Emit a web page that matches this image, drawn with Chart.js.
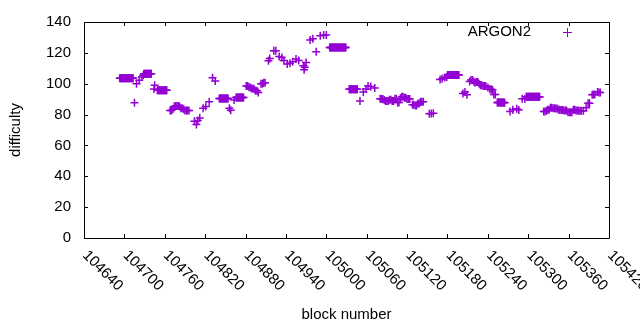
<!DOCTYPE html>
<html>
<head>
<meta charset="utf-8">
<script src="https://cdn.jsdelivr.net/npm/chart.js@4/dist/chart.umd.min.js"></script>
<style>
    html, body { margin: 0; padding: 0; background: #fff; }
    #wrap { width: 640px; height: 330px; }
</style>
</head>
<body>
<div id="wrap"><canvas id="chart" width="640" height="330"></canvas></div>
<script>
// ARGON2 difficulty per block
const seriesName = 'ARGON2';
const blocks = [
    104693, 104694, 104695, 104696, 104697, 104698, 104699, 104700, 104701, 104702, 104703,
    104704, 104705, 104706, 104707, 104708, 104709, 104710, 104711, 104712, 104713,
    104715, 104718, 104722, 104726, 104728,
    104729, 104730, 104731, 104732, 104733, 104734, 104735, 104736, 104737, 104738, 104739, 104740,
    104744, 104745,
    104749, 104750, 104751, 104752, 104753, 104754, 104755, 104756, 104757, 104758, 104759,
    104760, 104761, 104762, 104763,
    104768, 104770, 104772, 104774, 104776, 104778, 104780, 104782, 104784, 104786, 104788,
    104790, 104792, 104794, 104796,
    104804, 104807, 104809, 104812, 104817, 104821, 104826, 104831, 104835,
    104841, 104842, 104843, 104844, 104845, 104846, 104847, 104848, 104849, 104850, 104851,
    104852, 104853, 104854,
    104856, 104858, 104863,
    104866, 104867, 104868, 104869, 104870, 104871, 104872, 104873, 104874, 104875, 104876, 104877,
    104881, 104883, 104885, 104887, 104889, 104891, 104893, 104895, 104897, 104899, 104903,
    104905, 104907, 104909,
    104914, 104916, 104922, 104925, 104930, 104934, 104937, 104942, 104946, 104950, 104955,
    104959, 104966, 104967, 104968, 104970,
    104976, 104980, 104985, 104991, 104996, 105000,
    105005, 105006, 105007, 105008, 105009, 105010, 105011, 105012, 105013, 105014, 105015,
    105016, 105017, 105018, 105019, 105020, 105021, 105022, 105023, 105024, 105025, 105026,
    105027, 105028, 105029,
    105034, 105035, 105036, 105037, 105038, 105039, 105040, 105041, 105042, 105043, 105044,
    105045, 105046,
    105050, 105055, 105059, 105062, 105066, 105072,
    105080, 105082, 105084, 105086, 105088, 105090, 105092, 105094, 105096, 105098, 105100,
    105102, 105104, 105106, 105108, 105110,
    105112, 105114, 105116, 105118, 105120, 105122, 105124, 105128, 105130, 105132, 105134,
    105136, 105138, 105140, 105142, 105144,
    105153, 105156, 105159,
    105169, 105172, 105176, 105179,
    105180, 105181, 105182, 105183, 105184, 105185, 105186, 105187, 105188, 105189, 105190,
    105191, 105192, 105193, 105194, 105195, 105196, 105197,
    105203, 105206, 105209,
    105213, 105215, 105217, 105219, 105221, 105223, 105225, 105227, 105229, 105231, 105233,
    105235, 105237, 105240, 105243, 105245, 105247, 105249, 105251,
    105254, 105255, 105256, 105257, 105258, 105259, 105260, 105261, 105262, 105263, 105264, 105265,
    105273, 105277, 105283, 105286,
    105291, 105295,
    105297, 105298, 105299, 105300, 105301, 105302, 105303, 105304, 105305, 105306, 105307,
    105308, 105309, 105310, 105311, 105312, 105313, 105314, 105315, 105316, 105317,
    105323, 105325, 105327, 105329, 105331, 105333, 105335, 105337, 105339, 105341, 105343,
    105345, 105347, 105349, 105351, 105353,
    105355, 105357, 105359, 105361, 105363, 105365, 105367, 105369, 105371, 105373, 105375,
    105377, 105379, 105382, 105386,
    105389, 105391, 105395, 105397, 105399, 105403, 105405, 105407
];
const difficulty = [
    103.6, 103.6, 103.6, 103.6, 103.6, 103.6, 103.6, 103.6, 103.6, 103.6, 103.6,
    103.6, 103.6, 103.6, 103.6, 103.6, 103.6, 103.6, 103.6, 103.6, 103.6,
    87.7, 100.0, 102.2, 104.3, 105.5,
    106.4, 106.4, 106.4, 106.4, 106.4, 106.4, 106.4, 106.4, 106.4, 106.4, 106.4, 106.4,
    96.6, 99.0,
    95.8, 95.8, 95.8, 95.8, 95.8, 95.8, 95.8, 95.8, 95.8, 95.8, 95.8,
    95.8, 95.8, 95.8, 95.8,
    82.6, 82.6, 83.5, 85.2, 85.6, 85.6, 85.6, 85.2, 84.1, 84.1, 83.5,
    82.6, 82.6, 82.6, 82.6,
    75.6, 73.5, 76.2, 77.7, 84.1, 85.2, 88.3, 103.8, 101.7,
    90.4, 90.4, 90.4, 90.4, 90.4, 90.4, 90.4, 90.4, 90.4, 90.4, 90.4,
    90.4, 90.4, 90.4,
    84.1, 82.8, 89.4,
    91.1, 91.1, 91.1, 91.1, 91.1, 91.1, 91.1, 91.1, 91.1, 91.1, 91.1, 91.1,
    98.5, 98.5, 97.9, 97.5, 96.9, 96.9, 96.4, 95.4, 95.4, 94.3, 100.0,
    100.0, 100.6, 100.6,
    114.9, 116.4, 121.3, 121.3, 117.7, 117.0, 115.1, 112.8, 113.2, 114.3, 116.0,
    115.1, 111.7, 109.0, 110.7, 113.8,
    128.3, 129.2, 120.7, 131.1, 131.5, 131.5,
    123.4, 123.4, 123.4, 123.4, 123.4, 123.4, 123.4, 123.4, 123.4, 123.4, 123.4,
    123.4, 123.4, 123.4, 123.4, 123.4, 123.4, 123.4, 123.4, 123.4, 123.4, 123.4,
    123.4, 123.4, 123.4,
    96.4, 96.4, 96.4, 96.4, 96.4, 96.4, 96.4, 96.4, 96.4, 96.4, 96.4,
    96.4, 96.4,
    88.8, 94.7, 96.6, 98.5, 98.2, 97.3,
    90.2, 90.1, 90.1, 89.4, 88.8, 88.8, 88.8, 89.6, 89.6, 88.8, 88.8,
    90.2, 90.2, 87.9, 87.9, 90.5,
    91.5, 91.5, 90.9, 90.9, 90.1, 90.1, 90.1, 86.4, 86.4, 85.8, 85.8,
    87.1, 87.1, 88.3, 88.3, 88.3,
    80.5, 80.7, 80.9,
    102.8, 103.2, 104.0, 104.3,
    105.7, 105.7, 105.7, 105.7, 105.7, 105.7, 105.7, 105.7, 105.7, 105.7, 105.7,
    105.7, 105.7, 105.7, 105.7, 105.7, 105.7, 105.7,
    93.6, 94.7, 92.8,
    101.5, 102.4, 102.4, 101.5, 100.6, 101.1, 101.1, 100.0, 99.0, 99.0, 98.5,
    98.5, 98.5, 97.5, 96.4, 96.4, 96.0, 93.0, 93.0,
    87.9, 87.9, 87.9, 87.9, 87.9, 87.9, 87.9, 87.9, 87.9, 87.9, 87.9, 87.7,
    82.0, 83.2, 83.7, 82.9,
    90.2, 90.1,
    91.5, 91.5, 91.5, 91.5, 91.5, 91.5, 91.5, 91.5, 91.5, 91.5, 91.5,
    91.5, 91.5, 91.5, 91.5, 91.5, 91.5, 91.5, 91.5, 91.5, 91.5,
    82.0, 82.0, 82.4, 83.2, 83.2, 84.5, 84.5, 84.1, 84.1, 83.9, 83.9,
    83.2, 83.2, 83.0, 83.0, 82.6,
    82.6, 82.6, 81.5, 81.5, 81.5, 81.5, 83.2, 83.2, 82.6, 82.6, 82.4,
    82.4, 82.4, 82.4, 84.5,
    87.3, 87.3, 92.8, 93.0, 93.0, 94.7, 94.3, 94.3
];
const xMin = 104640, xMax = 105420, xStep = 60;
const yMin = 0, yMax = 140, yStep = 20;

const purple = '#9400d3';
const fontFamily = '"Liberation Sans", Arial, sans-serif';
const fontSize = 15;

// gnuplot style frame: border on all sides, ticks pointing inward, mirrored
const framePlugin = {
    id: 'frame',
    afterDraw(chart) {
        const ctx = chart.ctx;
        const a = chart.chartArea;
        const xs = chart.scales.x;
        const ys = chart.scales.y;
        const tl = 4;
        ctx.save();
        ctx.strokeStyle = '#000';
        ctx.lineWidth = 1;
        ctx.beginPath();
        ctx.rect(Math.round(a.left) + 0.5, Math.round(a.top) + 0.5,
            Math.round(a.right - a.left), Math.round(a.bottom - a.top));
        xs.ticks.forEach((t) => {
            const px = Math.round(xs.getPixelForValue(t.value)) + 0.5;
            ctx.moveTo(px, a.bottom);
            ctx.lineTo(px, a.bottom - tl);
            ctx.moveTo(px, a.top);
            ctx.lineTo(px, a.top + tl);
        });
        ys.ticks.forEach((t) => {
            const py = Math.round(ys.getPixelForValue(t.value)) + 0.5;
            ctx.moveTo(a.left, py);
            ctx.lineTo(a.left + tl, py);
            ctx.moveTo(a.right, py);
            ctx.lineTo(a.right - tl, py);
        });
        ctx.stroke();

        // rotated x tick labels (clockwise, starting at the tick)
        ctx.fillStyle = '#000';
        ctx.font = fontSize + 'px ' + fontFamily;
        ctx.textAlign = 'left';
        ctx.textBaseline = 'middle';
        xs.ticks.forEach((t) => {
            const px = xs.getPixelForValue(t.value);
            ctx.save();
            ctx.translate(px + 1, a.bottom + 15);
            ctx.rotate(Math.PI / 4);
            ctx.fillText(String(t.value), 0, 0);
            ctx.restore();
        });

        // key, top right
        ctx.textAlign = 'right';
        ctx.fillText(seriesName, 531, 32);
        ctx.strokeStyle = purple;
        ctx.beginPath();
        ctx.moveTo(563, 32.5);
        ctx.lineTo(572, 32.5);
        ctx.moveTo(567.5, 28);
        ctx.lineTo(567.5, 37);
        ctx.stroke();
        ctx.restore();
    },
};

const points = blocks.map((b, i) => ({ x: b, y: difficulty[i] }));

new Chart(document.getElementById('chart'), {
    type: 'scatter',
    data: {
        datasets: [
            {
                label: seriesName,
                data: points,
                pointStyle: 'cross',
                pointRadius: 4,
                pointBorderWidth: 1.5,
                borderColor: purple,
                backgroundColor: purple,
            },
        ],
    },
    options: {
        responsive: false,
        animation: false,
        events: [],
        layout: { padding: { top: 19, right: 31, left: 0, bottom: 0 } },
        plugins: {
            legend: { display: false },
            tooltip: { enabled: false },
        },
        scales: {
            x: {
                type: 'linear',
                min: xMin,
                max: xMax,
                grid: { display: false, drawTicks: false },
                border: { display: false },
                ticks: { stepSize: xStep, display: false },
                title: {
                    display: true,
                    text: 'block number',
                    color: '#000',
                    font: { family: fontFamily, size: fontSize },
                    padding: { top: 6, bottom: 6 },
                },
                afterFit: (scale) => { scale.height = 92; },
            },
            y: {
                min: yMin,
                max: yMax,
                grid: { display: false, drawTicks: false },
                border: { display: false },
                ticks: {
                    stepSize: yStep,
                    padding: 13,
                    color: '#000',
                    font: { family: fontFamily, size: fontSize },
                },
                title: {
                    display: true,
                    text: 'difficulty',
                    color: '#000',
                    font: { family: fontFamily, size: fontSize },
                    padding: { top: 7, bottom: 7 },
                },
                afterFit: (scale) => { scale.width = 84; },
            },
        },
    },
    plugins: [framePlugin],
});
</script>
</body>
</html>
